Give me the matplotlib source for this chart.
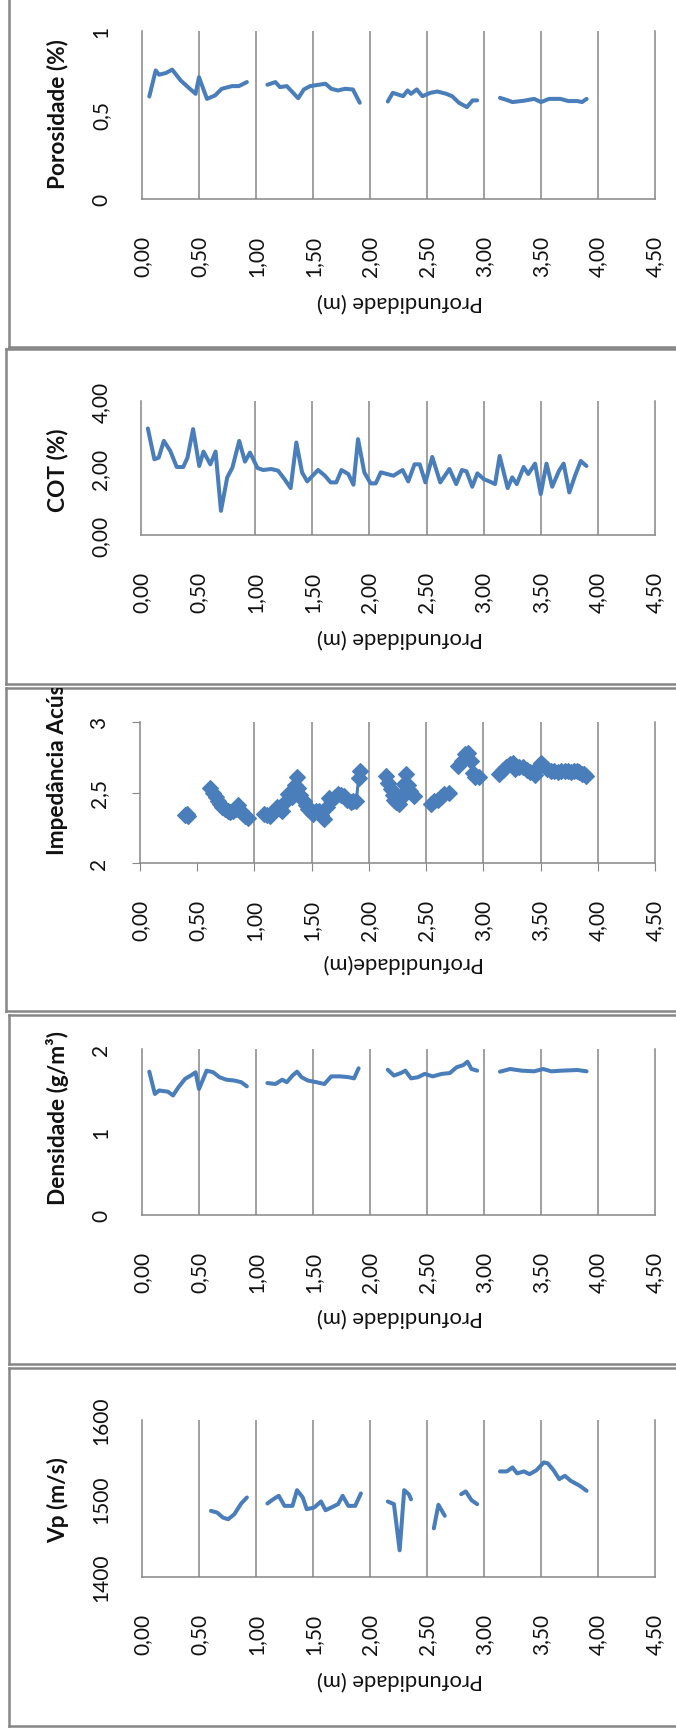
import numpy as np
import matplotlib.pyplot as plt
from matplotlib.ticker import FixedLocator, FixedFormatter

nan = np.nan

# Porosidade (%)
poro_depth = [0.064, 0.12, 0.15, 0.21, 0.265, 0.34, 0.42, 0.47, 0.50, 0.57, 0.64, 0.70, 0.79, 0.85, 0.92, nan,
              1.10, 1.17, 1.21, 1.27, 1.32, 1.37, 1.42, 1.475, 1.55, 1.61, 1.66, 1.72, 1.78, 1.85, 1.91, nan,
              2.156, 2.20, 2.29, 2.33, 2.36, 2.41, 2.46, 2.53, 2.59, 2.67, 2.72, 2.78, 2.85, 2.90, 2.94, nan,
              3.14, 3.21, 3.25, 3.35, 3.44, 3.50, 3.57, 3.67, 3.74, 3.82, 3.86, 3.90]
poro = [0.61, 0.765, 0.74, 0.75, 0.77, 0.705, 0.656, 0.626, 0.725, 0.596, 0.616, 0.656, 0.672, 0.672, 0.696, nan,
        0.68, 0.696, 0.666, 0.672, 0.636, 0.60, 0.652, 0.672, 0.68, 0.686, 0.656, 0.646, 0.656, 0.652, 0.573, nan,
        0.58, 0.632, 0.612, 0.646, 0.626, 0.652, 0.612, 0.632, 0.640, 0.626, 0.612, 0.573, 0.547, 0.587, 0.587, nan,
        0.602, 0.587, 0.577, 0.585, 0.596, 0.577, 0.596, 0.596, 0.583, 0.583, 0.577, 0.596]

# COT (%)
cot_depth = [0.06, 0.117, 0.155, 0.20, 0.256, 0.313, 0.37, 0.407, 0.456, 0.51, 0.547, 0.607, 0.653, 0.70,
             0.755, 0.80, 0.86, 0.91, 0.954, 1.02, 1.07, 1.14, 1.20, 1.256, 1.31, 1.36, 1.41, 1.455, 1.55,
             1.61, 1.66, 1.71, 1.755, 1.815, 1.86, 1.90, 1.955, 2.01, 2.055, 2.10, 2.21, 2.29, 2.34, 2.395,
             2.44, 2.49, 2.55, 2.62, 2.70, 2.76, 2.81, 2.85, 2.90, 2.945, 3.00, 3.05, 3.10, 3.14, 3.21, 3.25,
             3.29, 3.35, 3.39, 3.45, 3.50, 3.55, 3.60, 3.66, 3.70, 3.75, 3.80, 3.85, 3.90]
cot = [3.18, 2.26, 2.31, 2.81, 2.51, 2.03, 2.03, 2.31, 3.16, 2.06, 2.49, 2.11, 2.49, 0.72,
       1.72, 2.01, 2.81, 2.19, 2.46, 2.00, 1.94, 1.97, 1.92, 1.67, 1.40, 2.76, 1.87, 1.60, 1.94,
       1.77, 1.57, 1.57, 1.94, 1.82, 1.50, 2.86, 1.87, 1.54, 1.54, 1.87, 1.77, 1.94, 1.60, 2.11,
       2.11, 1.57, 2.33, 1.57, 1.97, 1.52, 1.94, 1.90, 1.44, 1.84, 1.67, 1.60, 1.52, 2.36, 1.40, 1.72,
       1.52, 2.03, 1.82, 2.13, 1.22, 2.13, 1.44, 1.92, 2.13, 1.27, 1.77, 2.21, 2.06]

# Impedancia acustica
imp_depth = [0.39, 0.41, 0.42, nan,
             0.61, 0.635, 0.66, 0.68, 0.70, 0.72, 0.745, 0.77, 0.79, 0.815, 0.84, 0.86, 0.88, 0.90, 0.92, 0.94, nan,
             1.08, 1.11, 1.14, 1.17, 1.20, 1.225, 1.245, 1.27, 1.29, 1.31, 1.33, 1.35, 1.37, 1.38, 1.40, 1.43,
             1.45, 1.465, 1.49, 1.51, 1.535, 1.56, 1.585, 1.61, 1.63, 1.65, 1.67, 1.70, 1.73, 1.755, 1.78, 1.81,
             1.84, 1.865, 1.89, 1.91, 1.92, nan,
             2.15, 2.17, 2.19, 2.21, 2.22, 2.24, 2.26, 2.28, 2.30, 2.31, 2.32, 2.34, 2.36, 2.39, nan,
             2.54, 2.57, 2.60, 2.63, 2.66, 2.70, nan,
             2.78, 2.81, 2.84, 2.87, 2.89, 2.91, 2.93, 2.96, nan,
             3.14, 3.17, 3.20, 3.23, 3.255, 3.28, 3.31, 3.35, 3.38, 3.41, 3.45, 3.48, 3.50, 3.53, 3.56, 3.59,
             3.62, 3.65, 3.68, 3.71, 3.74, 3.765, 3.79, 3.82, 3.84, 3.86, 3.88, 3.90]
imp = [2.34, 2.35, 2.33, nan,
       2.53, 2.50, 2.47, 2.44, 2.42, 2.40, 2.38, 2.37, 2.36, 2.37, 2.38, 2.41, 2.37, 2.35, 2.33, 2.32, nan,
       2.35, 2.34, 2.33, 2.37, 2.40, 2.38, 2.37, 2.43, 2.49, 2.48, 2.47, 2.55, 2.61, 2.53, 2.48, 2.44,
       2.41, 2.38, 2.36, 2.35, 2.37, 2.37, 2.34, 2.31, 2.40, 2.46, 2.45, 2.47, 2.49, 2.48, 2.475, 2.45,
       2.43, 2.44, 2.44, 2.60, 2.65, nan,
       2.62, 2.57, 2.525, 2.48, 2.45, 2.43, 2.42, 2.46, 2.49, 2.56, 2.63, 2.55, 2.51, 2.475, nan,
       2.42, 2.44, 2.45, 2.47, 2.49, 2.50, nan,
       2.69, 2.72, 2.775, 2.78, 2.72, 2.64, 2.61, 2.61, nan,
       2.63, 2.66, 2.68, 2.70, 2.71, 2.67, 2.68, 2.68, 2.66, 2.645, 2.625, 2.68, 2.71, 2.69, 2.67, 2.656,
       2.65, 2.645, 2.655, 2.656, 2.65, 2.645, 2.655, 2.656, 2.645, 2.633, 2.63, 2.62]

# Densidade (g/m3)
dens_depth = [0.064, 0.113, 0.15, 0.227, 0.272, 0.32, 0.378, 0.435, 0.47, 0.50, 0.567, 0.624, 0.68, 0.74, 0.81, 0.87, 0.92, nan,
              1.10, 1.17, 1.23, 1.27, 1.32, 1.36, 1.40, 1.455, 1.53, 1.60, 1.66, 1.74, 1.815, 1.86, 1.90, nan,
              2.156, 2.21, 2.27, 2.31, 2.36, 2.42, 2.48, 2.55, 2.63, 2.70, 2.76, 2.82, 2.855, 2.89, 2.94, nan,
              3.14, 3.23, 3.33, 3.44, 3.52, 3.59, 3.68, 3.82, 3.90]
dens = [1.727, 1.458, 1.50, 1.486, 1.44, 1.54, 1.64, 1.687, 1.72, 1.518, 1.739, 1.72, 1.66, 1.63, 1.62, 1.60, 1.55, nan,
        1.59, 1.578, 1.63, 1.60, 1.68, 1.727, 1.66, 1.62, 1.60, 1.578, 1.67, 1.67, 1.66, 1.646, 1.767, nan,
        1.75, 1.68, 1.71, 1.739, 1.646, 1.66, 1.70, 1.67, 1.70, 1.71, 1.78, 1.807, 1.847, 1.759, 1.739, nan,
        1.727, 1.759, 1.739, 1.731, 1.759, 1.731, 1.739, 1.747, 1.731]

# Vp (m/s)
vp_depth = [0.605, 0.66, 0.71, 0.756, 0.81, 0.87, 0.92, nan,
            1.10, 1.15, 1.20, 1.25, 1.32, 1.36, 1.41, 1.445, 1.51, 1.57, 1.61, 1.66, 1.72, 1.76, 1.81, 1.87, 1.92, nan,
            2.156, 2.21, 2.26, 2.30, 2.34, 2.36, nan,
            2.56, 2.60, 2.656, nan,
            2.80, 2.84, 2.89, 2.94, nan,
            3.14, 3.20, 3.25, 3.29, 3.35, 3.40, 3.46, 3.525, 3.56, 3.61, 3.66, 3.71, 3.76, 3.84, 3.90]
vp = [1484.3, 1482.0, 1475.7, 1473.6, 1480.0, 1493.6, 1501.3, nan,
      1493.6, 1499.0, 1503.4, 1490.6, 1490.6, 1510.6, 1501.3, 1486.4, 1488.5, 1496.2, 1485.1, 1488.5, 1492.8, 1503.4, 1490.6, 1490.6, 1506.4, nan,
      1496.2, 1492.8, 1434.0, 1510.6, 1505.5, 1499.0, nan,
      1462.0, 1492.0, 1478.0, nan,
      1505.5, 1509.0, 1497.9, 1492.8, nan,
      1534.5, 1534.5, 1539.6, 1532.0, 1534.5, 1531.0, 1536.0, 1546.0, 1544.7, 1536.0, 1524.7, 1528.9, 1522.6, 1516.2, 1509.8]

depth_ticks = [0.0, 0.5, 1.0, 1.5, 2.0, 2.5, 3.0, 3.5, 4.0, 4.5]
depth_labels = ['0,00', '0,50', '1,00', '1,50', '2,00', '2,50', '3,00', '3,50', '4,00', '4,50']

W, H = 676, 1733
BLUE = '#4a7ebb'
GRAY = '#868686'
FONT = 'Lato'

plt.rcParams['font.family'] = FONT

fig = plt.figure(figsize=(W / 100, H / 100), dpi=100)


def rect(left, top, right, bottom):
    return [left / W, 1 - bottom / H, (right - left) / W, (bottom - top) / H]


def panel(box, area, ylabel, ylab_y, yticks, ylabels, xlabel, xlab_y,
          x, y, grid_from=0.5, marker=None, ticks=False, ylab_va='center'):
    # outer frame of the chart object, text clipped to it
    frame = fig.add_axes(rect(box[0], box[1], 760, box[2]), zorder=0)
    frame.set_xticks([])
    frame.set_yticks([])
    for s in frame.spines.values():
        s.set_color(GRAY)
        s.set_linewidth(1.8)
    frame.text(58 / W, 1 - ylab_y / H, ylabel, transform=fig.transFigure,
               rotation=90, ha='center', va=ylab_va, fontsize=16.3,
               fontweight='bold', color='#111111', clip_on=True)
    frame.text(400 / W, 1 - xlab_y / H, xlabel, transform=fig.transFigure,
               rotation=180, ha='center', va='center', fontsize=15.8,
               color='#111111', clip_on=True)

    ax = fig.add_axes(rect(*area), zorder=1)
    ax.patch.set_visible(False)
    if marker:
        ax.plot(x, y, color=BLUE, lw=2.2, marker=marker, markersize=8.5,
                markeredgecolor=BLUE, markeredgewidth=0.8)
    else:
        ax.plot(x, y, color=BLUE, lw=2.9, solid_capstyle='round',
                solid_joinstyle='round')
    ax.set_xlim(0, 4.5)
    ax.set_ylim(yticks[0], yticks[-1])
    for g in depth_ticks:
        if g >= grid_from and g < 4.5:
            ax.axvline(g, color=GRAY, lw=1.1, zorder=0)
    ax.spines['top'].set_visible(False)
    for s in ('left', 'bottom', 'right'):
        ax.spines[s].set_color(GRAY)
        ax.spines[s].set_linewidth(1.1)
    ax.xaxis.set_major_locator(FixedLocator(depth_ticks))
    ax.xaxis.set_major_formatter(FixedFormatter(depth_labels))
    ax.yaxis.set_major_locator(FixedLocator(yticks))
    ax.yaxis.set_major_formatter(FixedFormatter(ylabels))
    tl = 6 if ticks else 0
    ax.tick_params(axis='x', labelrotation=90, labelsize=15, length=tl,
                   color=GRAY, pad=26 - tl, labelcolor='#111111')
    ax.tick_params(axis='y', labelrotation=90, labelsize=15, length=tl,
                   color=GRAY, pad=22 - tl, labelcolor='#111111')
    for lab in ax.get_yticklabels():
        lab.set_va('center')
    return ax


panel((9, -20, 348), (142, 32, 655, 200), 'Porosidade (%)', 114,
      [0, 0.5, 1], ['0', '0,5', '1'], 'Profundidade (m)', 302,
      poro_depth, poro)

panel((6, 350, 685), (141, 402, 655, 536), 'COT (%)', 470,
      [0, 2, 4], ['0,00', '2,00', '4,00'], 'Profundidade (m)', 638,
      cot_depth, cot, grid_from=1.0)

panel((6, 689, 1012), (140, 723, 655, 864), 'Impedância Acústica', 855,
      [2, 2.5, 3], ['2', '2,5', '3'], 'Profundidade(m)', 963,
      imp_depth, imp, grid_from=1.0, marker='D', ticks=True, ylab_va='bottom')

panel((9, 1016, 1365), (142, 1050, 655, 1216), 'Densidade (g/m³)', 1118,
      [0, 1, 2], ['0', '1', '2'], 'Profundidade (m)', 1317,
      dens_depth, dens)

panel((9, 1369, 1727), (142, 1421, 655, 1578), 'Vp (m/s)', 1500,
      [1400, 1500, 1600], ['1400', '1500', '1600'], 'Profundidade (m)', 1680,
      vp_depth, vp)

fig.savefig('out.png', dpi=100, facecolor='white')
